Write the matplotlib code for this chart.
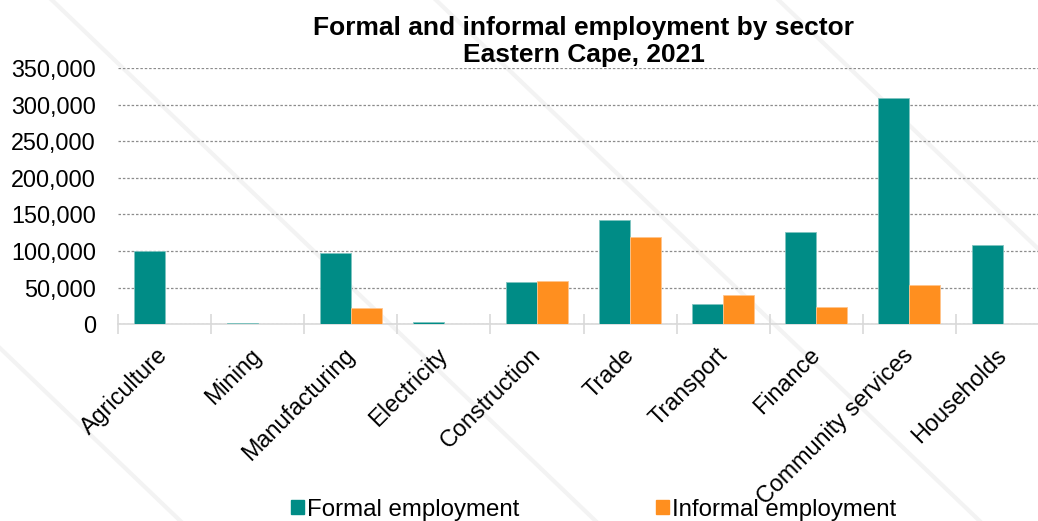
import matplotlib.pyplot as plt
from matplotlib.patches import Patch
from matplotlib.ticker import FuncFormatter
import numpy as np

plt.rcParams['font.family'] = ['Liberation Sans', 'DejaVu Sans']

sectors = ['Agriculture', 'Mining', 'Manufacturing', 'Electricity', 'Construction',
           'Trade', 'Transport', 'Finance', 'Community services', 'Households']
formal = [99500, 1500, 97000, 3000, 57000, 141800, 27000, 125800, 309000, 107600]
informal = [0, 0, 21500, 0, 58800, 119000, 39700, 23700, 53300, 0]

TEAL = '#008C86'
ORANGE = '#FF8F1F'

fig = plt.figure(figsize=(10.38, 5.21), dpi=100)

# faint diagonal stripes of the slide background
for x0 in [-0.35, 0.05, 0.42, 0.75, 1.05]:
    fig.add_artist(plt.Line2D([x0, x0 + 0.55], [1.0, -0.05], transform=fig.transFigure,
                              color='#f3f3f3', lw=3, zorder=-10))

ax = fig.add_axes([0.1137, 0.378, 0.897, 0.491])
ax.patch.set_alpha(0)

x = np.arange(len(sectors))
w = 0.333
ax.bar(x - w / 2, formal, w, color=TEAL, edgecolor='#7fc4c0', linewidth=0.6, zorder=3)
ax.bar(x + w / 2, informal, w, color=ORANGE, edgecolor='#ffc48c', linewidth=0.6, zorder=3)

ax.set_xlim(-0.5, len(sectors) - 0.5)
ax.set_ylim(0, 350000)
ax.set_yticks(np.arange(0, 350001, 50000))
ax.yaxis.set_major_formatter(FuncFormatter(lambda v, p: f'{int(v):,}'))
ax.grid(axis='y', color='#8c8c8c', linestyle=(0, (2, 1.5)), linewidth=0.9, zorder=0)

for s in ['top', 'right', 'left']:
    ax.spines[s].set_visible(False)
ax.spines['bottom'].set_color('#d9d9d9')
ax.spines['bottom'].set_linewidth(1.2)

ax.tick_params(axis='y', length=0, pad=16, labelsize=16.8)
ax.set_xticks(x)
ax.set_xticklabels(sectors, rotation=45, ha='right', va='center',
                   rotation_mode='anchor', fontsize=16.8)
ax.tick_params(axis='x', which='major', length=0, pad=20)
ax.set_xticks(np.arange(-0.5, len(sectors), 1), minor=True)
ax.tick_params(axis='x', which='minor', length=15, direction='inout',
               color='#d9d9d9', width=1.2)

fig.text(0.5626, 0.97, 'Formal and informal employment by sector\nEastern Cape, 2021',
         ha='center', va='top', fontsize=19, fontweight='bold', linespacing=1.2)

handles = [Patch(color=TEAL, label='Formal employment'),
           Patch(color=ORANGE, label='Informal employment')]
fig.legend(handles=handles, loc='center', bbox_to_anchor=(0.572, 0.022), ncol=2,
           frameon=False, fontsize=17.3, handlelength=0.55, handleheight=0.55,
           handletextpad=0.12, columnspacing=5.7)

fig.savefig('out.png', dpi=100)
